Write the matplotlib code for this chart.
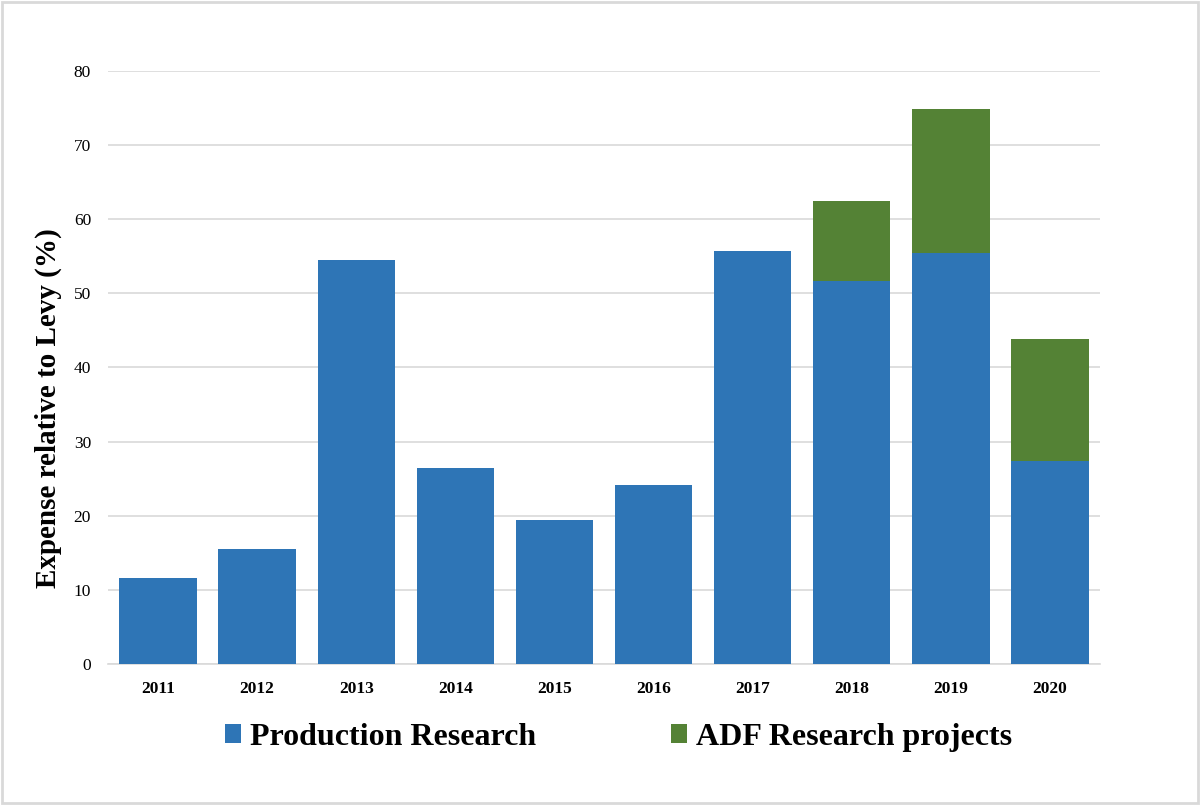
import matplotlib
matplotlib.use("Agg")
import matplotlib.pyplot as plt
from matplotlib.patches import Rectangle, Patch

years = ["2011", "2012", "2013", "2014", "2015", "2016", "2017", "2018", "2019", "2020"]
production = [11.6, 15.5, 54.5, 26.4, 19.4, 24.2, 55.7, 51.7, 55.5, 27.4]
adf = [0, 0, 0, 0, 0, 0, 0, 10.8, 19.4, 16.5]
series_names = ["Production Research", "ADF Research projects"]
yticks = [0, 10, 20, 30, 40, 50, 60, 70, 80]

blue = "#2E75B6"
green = "#548235"

plt.rcParams['font.family'] = ['Liberation Serif', 'DejaVu Serif']

fig = plt.figure(figsize=(12, 8.05), dpi=100)
ax = fig.add_axes([0.0904, 0.1752, 0.8259, 0.7366])

x = list(range(len(years)))
w = 0.78
ax.bar(x, production, width=w, color=blue, zorder=3)
ax.bar(x, adf, width=w, bottom=production, color=green, zorder=3)

ax.set_xlim(-0.5, len(years) - 0.5)
ax.set_ylim(0, 80)
ax.set_yticks(yticks)
ax.set_yticklabels([str(t) for t in yticks], fontsize=12.5)
ax.set_xticks(x)
ax.set_xticklabels(years, fontsize=12.5, fontweight='bold')
ax.tick_params(axis='y', length=0, pad=12.5)
ax.tick_params(axis='x', length=0, pad=12)
ax.grid(axis='y', color='#d9d9d9', linewidth=1.2, zorder=0)
for s in ['top', 'right', 'left']:
    ax.spines[s].set_visible(False)
ax.spines['bottom'].set_color('#d9d9d9')
ax.spines['bottom'].set_linewidth(1.2)

ax.set_ylabel("Expense relative to Levy (%)", fontsize=21, fontweight='bold')
ax.yaxis.set_label_coords(-0.047, 0.432)

handles = [Patch(facecolor=blue), Patch(facecolor=green)]
fig.legend(handles, series_names, loc='center', bbox_to_anchor=(0.5155, 1 - 737 / 805), ncol=2,
           frameon=False, prop={'size': 23, 'weight': 'bold'},
           handlelength=0.52, handleheight=0.55, handletextpad=0.28, columnspacing=4.2,
           borderpad=0)

fig.patches.append(Rectangle((0.002, 0.003), 0.996, 0.994, transform=fig.transFigure,
                             fill=False, edgecolor='#d9d9d9', linewidth=2))

fig.savefig("out.png", dpi=100)
